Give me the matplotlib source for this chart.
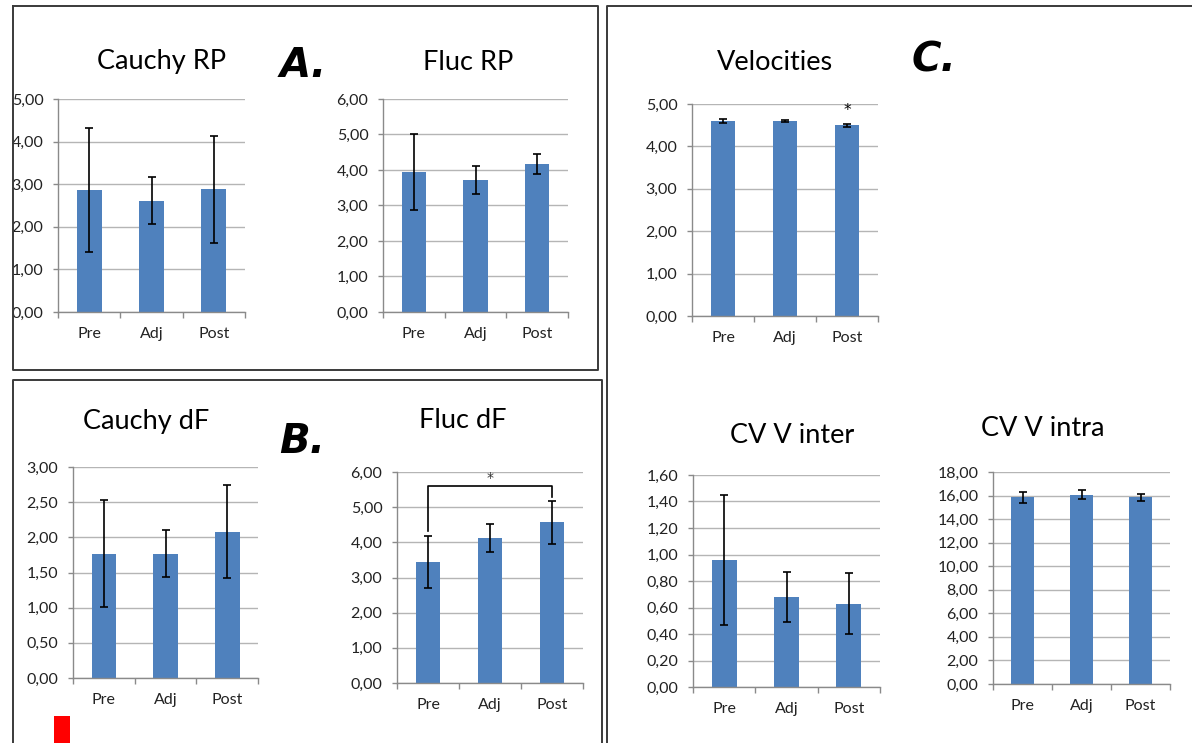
import matplotlib
matplotlib.use("Agg")
import matplotlib.pyplot as plt
from matplotlib.patches import Rectangle
from matplotlib.lines import Line2D
from matplotlib.ticker import FixedLocator, FuncFormatter

# ---- data -------------------------------------------------------------
categories = ["Pre", "Adj", "Post"]

cauchy_rp_mean = [2.87, 2.61, 2.88]
cauchy_rp_err = [1.46, 0.55, 1.25]

fluc_rp_mean = [3.94, 3.71, 4.17]
fluc_rp_err = [1.07, 0.40, 0.29]

cauchy_df_mean = [1.77, 1.77, 2.08]
cauchy_df_err = [0.755, 0.335, 0.66]

fluc_df_mean = [3.43, 4.13, 4.57]
fluc_df_err = [0.74, 0.40, 0.615]

velocity_mean = [4.60, 4.60, 4.50]
velocity_err = [0.055, 0.02, 0.04]

cv_inter_mean = [0.96, 0.68, 0.63]
cv_inter_err = [0.49, 0.19, 0.23]

cv_intra_mean = [15.85, 16.08, 15.85]
cv_intra_err = [0.44, 0.40, 0.27]

# ---- layout helpers ---------------------------------------------------
W, H = 1192, 743
DPI = 100
fig = plt.figure(figsize=(W / DPI, H / DPI), dpi=DPI)
fig.patch.set_facecolor("white")

FONT = ["Lato", "DejaVu Sans"]
BAR_COLOR = "#4F81BD"
GRID_COLOR = "#b5b5b5"
AXIS_COLOR = "#8a8a8a"
TICK_SIZE = 11.5


def fx(x):
    return x / W


def fy(y):
    return 1 - y / H


def comma_fmt(v, _pos=None):
    return f"{v:.2f}".replace(".", ",")


def bar_panel(rect, title, title_xy, means, errs, ymax, ystep):
    x0, y0, x1, y1 = rect
    ax = fig.add_axes([fx(x0), fy(y1), fx(x1 - x0), (y1 - y0) / H])
    xs = list(range(len(categories)))
    ax.bar(xs, means, width=0.4, color=BAR_COLOR, zorder=2)
    ax.errorbar(xs, means, yerr=errs, fmt="none", ecolor="black",
                elinewidth=1.2, capsize=3.2, capthick=1.2, zorder=3)
    ax.set_xlim(-0.5, len(categories) - 0.5)
    ax.set_ylim(0, ymax)
    n = int(round(ymax / ystep))
    ax.yaxis.set_major_locator(FixedLocator([i * ystep for i in range(n + 1)]))
    ax.yaxis.set_major_formatter(FuncFormatter(comma_fmt))
    ax.yaxis.grid(True, color=GRID_COLOR, linewidth=1.0, zorder=0)
    ax.set_axisbelow(True)
    # category boundaries carry the tick marks, labels sit at the centres
    ax.xaxis.set_major_locator(FixedLocator([i - 0.5 for i in range(len(categories) + 1)]))
    ax.xaxis.set_major_formatter(FuncFormatter(lambda v, p: ""))
    ax.xaxis.set_minor_locator(FixedLocator(xs))
    ax.xaxis.set_minor_formatter(FuncFormatter(lambda v, p: categories[int(round(v))]))
    ax.tick_params(axis="x", which="major", length=4, width=1, color=AXIS_COLOR, direction="out")
    ax.tick_params(axis="x", which="minor", length=0, pad=10.5, labelsize=TICK_SIZE,
                   labelcolor="#222222")
    ax.tick_params(axis="y", which="major", length=3.5, width=1, color=AXIS_COLOR,
                   direction="out", pad=7, labelsize=TICK_SIZE, labelcolor="#222222")
    for lbl in ax.get_xticklabels(minor=True) + ax.get_yticklabels():
        lbl.set_family(FONT)
    for s in ("top", "right"):
        ax.spines[s].set_visible(False)
    for s in ("left", "bottom"):
        ax.spines[s].set_color(AXIS_COLOR)
        ax.spines[s].set_linewidth(1.0)
    ax.set_facecolor("none")
    fig.text(fx(title_xy[0]), fy(title_xy[1]), title, ha="center", va="center",
             fontsize=19.5, family=FONT, color="black")
    return ax


# ---- panels -----------------------------------------------------------
bar_panel((58, 99, 245, 312), "Cauchy RP", (162, 62), cauchy_rp_mean, cauchy_rp_err, 5, 1)
bar_panel((383, 99, 568, 312), "Fluc RP", (468, 62), fluc_rp_mean, fluc_rp_err, 6, 1)
bar_panel((73, 467, 258, 678), "Cauchy dF", (146, 422), cauchy_df_mean, cauchy_df_err, 3, 0.5)
ax_fdf = bar_panel((397, 472, 583, 683), "Fluc dF", (463, 420), fluc_df_mean, fluc_df_err, 6, 1)
ax_vel = bar_panel((692, 104, 878, 316), "Velocities", (775, 63), velocity_mean, velocity_err, 5, 1)
bar_panel((693, 475, 880, 687), "CV V inter", (792, 435), cv_inter_mean, cv_inter_err, 1.6, 0.2)
bar_panel((993, 472, 1170, 684), "CV V intra", (1043, 428), cv_intra_mean, cv_intra_err, 18, 2)

# significance bracket Pre vs Post in Fluc dF
bracket_y = 5.59
pre_top = fluc_df_mean[0] + fluc_df_err[0]
post_top = fluc_df_mean[2] + fluc_df_err[2]
ax_fdf.plot([0, 0, 2, 2], [pre_top + 0.16, bracket_y, bracket_y, post_top + 0.11],
            color="black", linewidth=1.2, zorder=4, clip_on=False)
ax_fdf.text(1, bracket_y + 0.24, "*", ha="center", va="center", fontsize=10,
            family="DejaVu Sans", color="#333333")

# significance marker on Post velocity
ax_vel.text(2, velocity_mean[2] + velocity_err[2] + 0.30, "*", ha="center", va="center",
            fontsize=11, family="DejaVu Sans", color="black")

# ---- panel letters ----------------------------------------------------
for letter, x, y in (("A.", 280, 77), ("B.", 279, 453), ("C.", 912, 72)):
    fig.text(fx(x), fy(y), letter, ha="left", va="baseline", fontsize=29,
             family="DejaVu Sans", weight="heavy", style="oblique", color="black")

# ---- frames around the panel groups -----------------------------------
fig.patches.append(Rectangle((0, 0), fx(12), 1, transform=fig.transFigure,
                             facecolor="white", edgecolor="none", zorder=9))
frame_kw = dict(color="#3a3a3a", linewidth=1.4, transform=fig.transFigure, zorder=10)


def frame(points):
    xs = [fx(p[0]) for p in points]
    ys = [fy(p[1]) for p in points]
    fig.lines.append(Line2D(xs, ys, **frame_kw))


frame([(13, 6), (598, 6), (598, 370), (13, 370), (13, 6)])
frame([(13, 745), (13, 380), (602, 380), (602, 745)])
frame([(607, 745), (607, 6), (1195, 6)])

# small red marker at the lower left
fig.patches.append(Rectangle((fx(54), fy(743)), fx(16), 27 / H, transform=fig.transFigure,
                             facecolor="#ff0000", edgecolor="none", zorder=10))

fig.savefig("out.png", dpi=DPI)
